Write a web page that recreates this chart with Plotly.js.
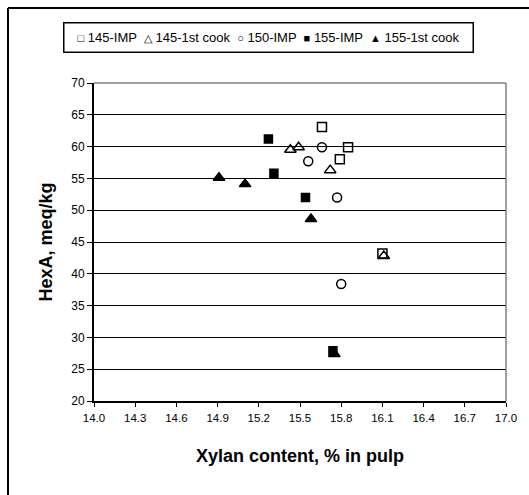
<!DOCTYPE html>
<html>
<head>
<meta charset="utf-8">
<script src="https://cdn.plot.ly/plotly-3.0.1.min.js"></script>
<style>html,body{margin:0;padding:0;background:#fff;}#chart{width:529px;height:495px;}</style>
</head>
<body>
<div id="chart"></div>
<script>
// Data
const seriesNames = ["145-IMP", "145-1st cook", "150-IMP", "155-IMP", "155-1st cook"];
const legendGlyphs = ["□", "△", "○", "■", "▲"];
const x145IMP = [15.66, 15.79, 15.85, 16.10];
const y145IMP = [63.1, 58.0, 59.9, 43.2];
const x145Cook = [15.43, 15.49, 15.72, 16.11];
const y145Cook = [59.5, 59.9, 56.3, 42.8];
const x150IMP = [15.56, 15.66, 15.77, 15.80];
const y150IMP = [57.7, 59.9, 52.0, 38.4];
const x155IMP = [15.27, 15.31, 15.54, 15.74];
const y155IMP = [61.2, 55.8, 52.0, 27.9];
const x155Cook = [14.91, 15.10, 15.58, 15.75];
const y155Cook = [55.1, 54.1, 48.6, 27.4];
const xTickVals = [14.0, 14.3, 14.6, 14.9, 15.2, 15.5, 15.8, 16.1, 16.4, 16.7, 17.0];
const yTickVals = [20, 25, 30, 35, 40, 45, 50, 55, 60, 65, 70];

const symbols = ["square-open", "triangle-up-open", "circle-open", "square", "triangle-up"];
const sizes = [9, 10, 9, 8, 10];
const xs = [x145IMP, x145Cook, x150IMP, x155IMP, x155Cook];
const ys = [y145IMP, y145Cook, y150IMP, y155IMP, y155Cook];

const traces = seriesNames.map((n, i) => ({
  type: "scatter", mode: "markers", name: n, showlegend: false,
  x: xs[i], y: ys[i],
  marker: {symbol: symbols[i], size: sizes[i], color: "#000", line: {color: "#000", width: 1.5}}
}));

const L = 94, R = 506, T = 83, B = 401, W = 529, H = 495;
const pw = R - L, ph = B - T;
const px = v => (v - L) / pw;
const py = v => (B - v) / ph;

const legendText = seriesNames.map((n, i) =>
  '<span style="font-size:11px">' + legendGlyphs[i] + '</span> ' + n).join("  ");

const layout = {
  width: W, height: H,
  margin: {l: L, r: W - R, t: T, b: H - B, pad: 0},
  paper_bgcolor: "#fff", plot_bgcolor: "#fff",
  font: {family: "Liberation Sans, Arial, sans-serif", size: 11, color: "#000"},
  showlegend: false,
  xaxis: {
    range: [14.0, 17.0], tickvals: xTickVals, tickformat: ".1f",
    showgrid: false, zeroline: false,
    showline: true, linecolor: "#000", linewidth: 1.5,
    ticks: "outside", ticklen: 4, tickcolor: "#000",
    ticklabelstandoff: 2,
    tickfont: {size: 11.5},
    title: {text: "<b>Xylan content, % in pulp</b>", font: {size: 18}, standoff: 26}
  },
  yaxis: {
    range: [20, 70], tickvals: yTickVals,
    showgrid: true, gridcolor: "#000", gridwidth: 1, zeroline: false,
    showline: true, linecolor: "#000", linewidth: 2,
    ticks: "outside", ticklen: 5, tickcolor: "#000",
    tickfont: {size: 12},
    title: {text: "<b>HexA, meq/kg</b>", font: {size: 18}, standoff: 14}
  },
  annotations: [{
    xref: "paper", yref: "paper", x: px(268), y: py(38), xanchor: "center", yanchor: "middle",
    text: legendText, showarrow: false, font: {size: 13, color: "#000"},
    bordercolor: "#000", borderwidth: 1.5, bgcolor: "#fff", borderpad: 3,
    width: 402, height: 22, align: "center"
  }],
  shapes: [
    {type: "line", xref: "paper", yref: "paper", x0: 0, x1: 1, y0: 1, y1: 1, line: {color: "#808080", width: 1.5}},
    {type: "line", xref: "paper", yref: "paper", x0: 1, x1: 1, y0: 0, y1: 1, line: {color: "#808080", width: 1.5}},
    {type: "line", xref: "paper", yref: "paper", x0: px(8), x1: px(8), y0: py(8), y1: py(600), line: {color: "#000", width: 2}},
    {type: "line", xref: "paper", yref: "paper", x0: px(8), x1: px(700), y0: py(8), y1: py(8), line: {color: "#000", width: 2}}
  ]
};

Plotly.newPlot("chart", traces, layout, {displayModeBar: false, staticPlot: true});
</script>
</body>
</html>
